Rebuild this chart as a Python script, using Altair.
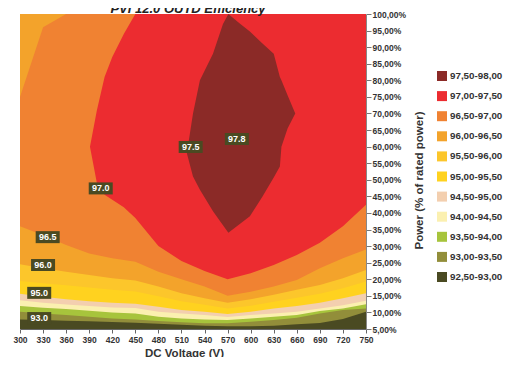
import altair as alt
import pandas as pd

FONT = "Liberation Sans, Arial, Helvetica, sans-serif"

title_text = "PVI 12.0 OUTD Efficiency"

voltage = [300, 330, 360, 390, 420, 450, 480, 510, 540, 570, 600, 630, 660, 690, 720, 750]

level_labels = ["97,50-98,00", "97,00-97,50", "96,50-97,00", "96,00-96,50", "95,50-96,00",
                "95,00-95,50", "94,50-95,00", "94,00-94,50", "93,50-94,00", "93,00-93,50",
                "92,50-93,00"]
level_colors = ["#8B2A27", "#EC2C30", "#F08232", "#F3A32B", "#FCC62B",
                "#FFD21F", "#F3CFAF", "#FBF0B0", "#A7C43C", "#928E3A", "#4A4A22"]

# lower boundary (% power) of each efficiency threshold, per voltage
low_93 = [7.9, 7.7, 7.5, 7.3, 7.1, 6.9, 6.6, 6.3, 6.0, 5.8, 5.8, 6.0, 6.4, 6.8, 8.0, 10.2]
low_935 = [10.2, 9.7, 9.2, 8.7, 8.2, 7.9, 7.4, 7.0, 6.7, 6.7, 7.2, 7.7, 8.4, 9.7, 10.7, 11.2]
low_94 = [11.9, 11.4, 11.0, 10.5, 10.0, 9.7, 8.7, 8.2, 7.9, 7.7, 8.2, 8.7, 9.2, 10.4, 11.2, 12.5]
low_945 = [13.7, 12.9, 12.4, 11.9, 11.5, 11.3, 10.2, 9.7, 9.2, 8.6, 9.2, 9.7, 10.2, 11.2, 12.2, 13.5]
low_95 = [15.6, 14.7, 14.0, 13.4, 12.9, 12.6, 11.7, 10.7, 10.2, 9.5, 10.2, 11.2, 11.9, 12.9, 14.3, 15.8]
low_955 = [19.5, 18.8, 18.2, 17.5, 16.8, 16.3, 14.9, 13.4, 12.3, 11.2, 12.0, 13.2, 14.4, 15.6, 17.3, 19.3]
low_96 = [24.5, 23.3, 22.3, 21.3, 20.3, 19.6, 17.8, 15.8, 14.3, 12.9, 14.0, 15.3, 16.8, 18.3, 20.3, 22.8]
low_965 = [36.0, 33.3, 30.3, 27.8, 26.3, 25.3, 22.3, 20.0, 17.8, 15.0, 16.2, 17.8, 19.8, 23.3, 26.3, 29.0]
high_965 = [75, 96, 100, 100, 100, 100, 100, 100, 100, 100, 100, 100, 100, 100, 100, 100]

v_97 = [391, 400, 410, 420, 435, 450, 480, 510, 540, 570, 600, 630, 660, 690, 720, 750]
low_97 = [60, 49, 45.5, 44, 41.7, 38.5, 30, 25.5, 22.5, 20, 21.8, 24.3, 27.3, 31, 36, 42.5]
high_97 = [60, 71, 81, 87, 94, 100, 100, 100, 100, 100, 100, 100, 100, 100, 100, 100]

v_975 = [517, 525, 534, 551, 564, 571, 585, 599, 615, 630, 638, 640, 648, 658]
low_975 = [58, 51, 47, 40.5, 36.3, 34, 36.5, 39, 44.8, 50.7, 54, 60, 65.5, 70]
high_975 = [58, 70, 80, 88, 97, 100, 97.3, 94.7, 91.2, 88, 81, 80, 75.5, 70]

label_text = ["97.0", "96.5", "96.0", "95.0", "93.0", "97.5", "97.8"]
label_v = [405, 336, 330, 325, 325, 522, 582]
label_p = [47.4, 32.7, 24.3, 15.9, 8.3, 59.9, 62.3]

x_enc = alt.X("v:Q", scale=alt.Scale(domain=[300, 750], nice=False, zero=False),
              title="DC Voltage (V)",
              axis=alt.Axis(values=voltage, labelAngle=0, labelFontSize=8.5, labelFont=FONT,
                            labelFontWeight="bold", labelColor="#333", tickSize=4,
                            tickColor="#666", domainColor="#666", labelPadding=2, grid=False,
                            labelOverlap=False, labelFlush=False,
                            titleFont=FONT, titleFontSize=11.5, titleFontWeight="bold",
                            titleColor="#333", titleX=164, titleY=27,
                            titleBaseline="alphabetic"))
y_enc = alt.Y("lo:Q", scale=alt.Scale(domain=[5, 100], nice=False, zero=False),
              title="Power (% of rated power)",
              axis=alt.Axis(orient="right", values=list(range(5, 101, 5)),
                            labelExpr="replace(format(datum.value, '.2f'), '.', ',') + '%'",
                            labelFontSize=8.5, labelFont=FONT, labelFontWeight="bold",
                            labelColor="#333", tickSize=5, tickColor="#777",
                            domainColor="#888", labelPadding=1, grid=False,
                            labelOverlap=False, labelFlush=False,
                            titleAngle=270, titleX=53, titleY=166, titleAlign="center",
                            titleBaseline="middle", titleFont=FONT, titleFontSize=11.5,
                            titleFontWeight="bold", titleColor="#333"))
color_enc = alt.Color("level:N",
                      scale=alt.Scale(domain=level_labels, range=level_colors),
                      title=None,
                      legend=alt.Legend(orient="none", legendX=417, legendY=57,
                                        symbolType="square", symbolSize=100,
                                        symbolStrokeWidth=0, symbolOpacity=1,
                                        labelFontSize=9.8, labelFont=FONT,
                                        labelFontWeight="bold", labelColor="#333",
                                        rowPadding=10.1, labelOffset=3, padding=0))


def band(label, xs, lo, hi):
    df = pd.DataFrame({"v": xs, "lo": lo, "hi": hi, "level": [label] * len(xs)})
    return alt.Chart(df).mark_area(opacity=1, clip=True).encode(
        x=x_enc, y=y_enc, y2="hi:Q", color=color_enc)


full = [100] * len(voltage)
layers = [
    band("92,50-93,00", voltage, [5] * len(voltage), full),
    band("93,00-93,50", voltage, low_93, full),
    band("93,50-94,00", voltage, low_935, full),
    band("94,00-94,50", voltage, low_94, full),
    band("94,50-95,00", voltage, low_945, full),
    band("95,00-95,50", voltage, low_95, full),
    band("95,50-96,00", voltage, low_955, full),
    band("96,00-96,50", voltage, low_96, full),
    band("96,50-97,00", voltage, low_965, high_965),
    band("97,00-97,50", v_97, low_97, high_97),
    band("97,50-98,00", v_975, low_975, high_975),
]

labels_df = pd.DataFrame({"v": label_v, "lo": label_p, "txt": label_text})
boxes = alt.Chart(labels_df).mark_point(
    shape="M-1,-0.5H1V0.5H-1Z", size=576, filled=True, color="#4A4A22",
    opacity=1, strokeWidth=0).encode(x=x_enc, y=y_enc)
texts = alt.Chart(labels_df).mark_text(
    font=FONT, fontSize=9, fontWeight="bold", color="white", baseline="middle",
    align="center").encode(x=x_enc, y=y_enc, text="txt:N")

title_df = pd.DataFrame({"t": [title_text]})
title = alt.Chart(title_df).mark_text(
    font=FONT, fontSize=13, fontWeight="bold", fontStyle="italic", color="#222",
    baseline="alphabetic", align="center").encode(
    x=alt.value(168), y=alt.value(-1), text="t:N")

chart = alt.layer(*layers, boxes, texts, title).properties(
    width=346, height=315,
    padding={"left": 12, "top": 6, "right": 137, "bottom": 28},
    autosize=alt.AutoSizeParams(type="none"),
).configure_view(stroke=None)

chart.save("out.html", embed_options={"renderer": "svg", "actions": False})
